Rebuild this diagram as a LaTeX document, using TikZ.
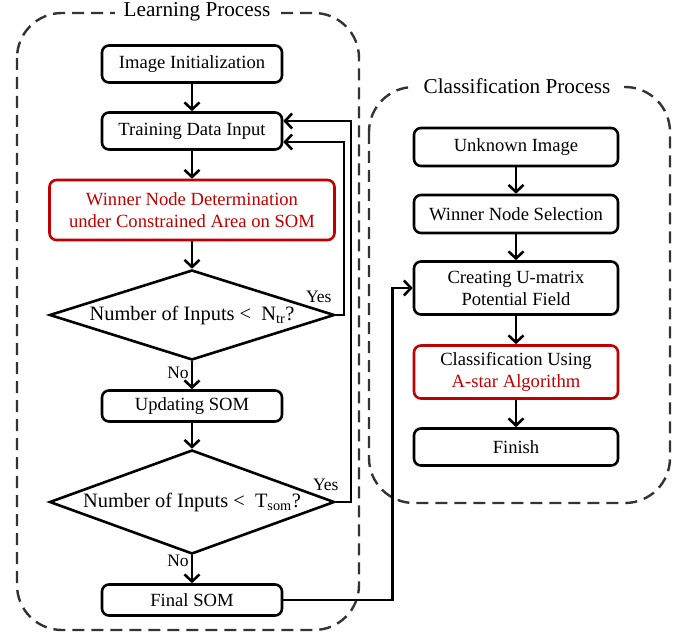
\documentclass[tikz,border=0pt]{standalone}
\usepackage{fontspec}
\setmainfont{Liberation Serif}
\usepackage{xcolor}
\usetikzlibrary{arrows.meta,positioning,shapes.geometric,calc}
\definecolor{somred}{RGB}{192,0,0}

\begin{document}
\begin{tikzpicture}[x=1pt, y=-1pt,
  box/.style={draw, line width=2.6pt, rounded corners=7pt, minimum width=180pt, minimum height=37pt, inner sep=2pt, align=center, font=\fontsize{18.6}{22}\selectfont},
  redbox/.style={box, draw=somred},
  decision/.style={draw, diamond, line width=2.6pt, minimum width=285pt, inner sep=0pt, font=\fontsize{20.4}{23}\selectfont},
  region/.style={draw=black!80, line width=2.4pt, dash pattern=on 12pt off 7pt, rounded corners=45pt},
  title/.style={fill=white, inner xsep=9pt, font=\fontsize{21.2}{24}\selectfont},
  lab/.style={font=\fontsize{17.5}{20}\selectfont, inner sep=2pt},
  arrow/.style={-{Straight Barb[length=7pt,width=15pt]}, line width=2.6pt}
]
\useasboundingbox (0,0) rectangle (684,636);

% learning process
\draw[region] (17,13) rectangle (359,630);
\node[title] (ltitle) at (197,12) {Learning Process};
\node[box] (init) at (192,64) {Image Initialization};
\node[box] (train) at (192,131) {Training Data Input};
\node[redbox, text=somred, minimum width=285pt, minimum height=60pt] (winner) at (192,210) {Winner Node Determination\\under Constrained Area on SOM};
\node[decision, minimum height=90pt, shape aspect=3.17] (dec1) at (192,315) {Number of Inputs <\enspace N\textsubscript{tr}?};
\node[box, minimum height=31pt] (update) at (192,406) {Updating SOM};
\node[decision, minimum height=104pt, shape aspect=2.74] (dec2) at (192,502) {Number of Inputs <\enspace T\textsubscript{som}?};
\node[box, minimum height=31pt] (final) at (192,600) {Final SOM};

\draw[arrow] (init) -- (train);
\draw[arrow] (train) -- (winner);
\draw[arrow] (winner) -- (dec1);
\draw[arrow] (dec1) -- node[lab, left, pos=0.4] {No} (update);
\draw[arrow] (update) -- (dec2);
\draw[arrow] (dec2) -- node[lab, left, pos=0.2] {No} (final);
\draw[arrow] (dec1.east) node[lab, anchor=south east, yshift=9pt, xshift=-1pt] {Yes}
  -- ++(8,0) |- ($(train.east)+(0,11)$);
\draw[arrow] (dec2.east) node[lab, anchor=south east, yshift=8pt, xshift=6pt] {Yes}
  -- ++(15,0) |- ($(train.east)+(0,-10)$);

% classification process
\draw[region] (369,87) rectangle (670,503);
\node[title] (ctitle) at (517,86) {Classification Process};
\node[box, minimum width=204pt, minimum height=38pt] (unknown) at (516,147) {Unknown Image};
\node[box, minimum width=204pt, minimum height=38pt] (select) at (516,214) {Winner Node Selection};
\node[box, minimum width=204pt, minimum height=53pt] (umat) at (516,288) {Creating U-matrix\\Potential Field};
\node[redbox, minimum width=204pt, minimum height=53pt] (astar) at (516,372) {Classification Using\\\textcolor{somred}{A-star Algorithm}};
\node[box, minimum width=204pt, minimum height=37pt] (finish) at (516,447) {Finish};

\draw[arrow] (unknown) -- (select);
\draw[arrow] (select) -- (umat);
\draw[arrow] (umat) -- (astar);
\draw[arrow] (astar) -- (finish);
\draw[arrow] (final.east) -- ++(109,0) |- (umat.west);
\end{tikzpicture}
\end{document}
